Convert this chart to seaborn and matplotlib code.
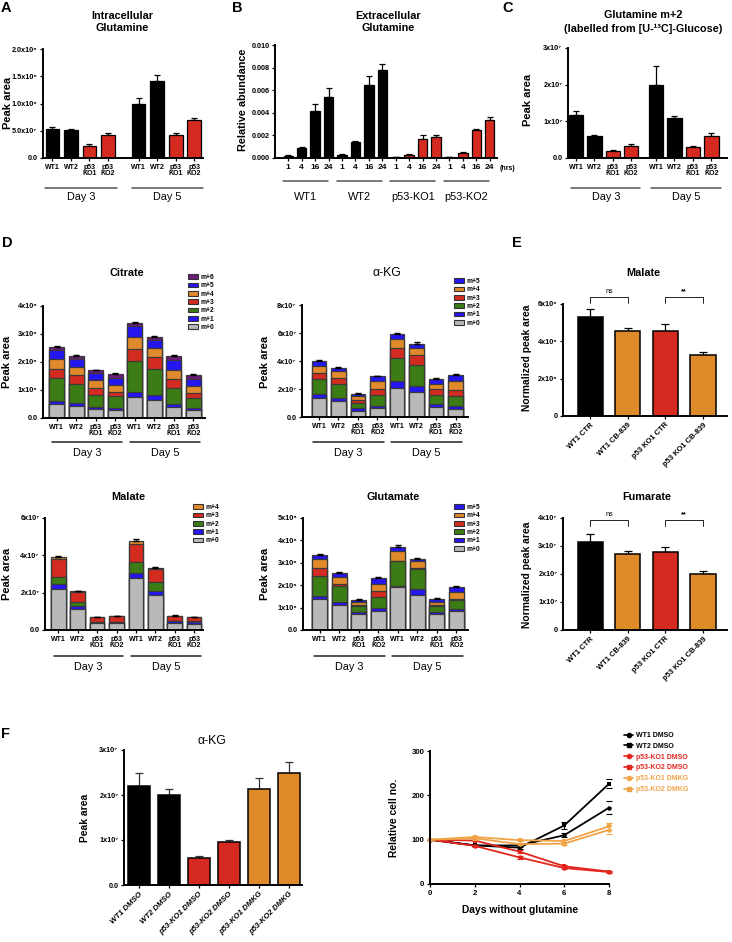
import numpy as np
import pandas as pd
import matplotlib
matplotlib.use("Agg")
import matplotlib.pyplot as plt
from matplotlib import transforms
from matplotlib.lines import Line2D
from matplotlib.patches import Patch
import seaborn as sns

# ------------------------------------------------------------------ data
DAY_LABELS = ["Day 3", "Day 5"]
LINE_TICKS = ["WT1", "WT2", "p53\nKO1", "p53\nKO2"]

# A  intracellular glutamine (peak area)
A_vals = [5.3e7, 5.1e7, 2.2e7, 4.3e7, 9.9e7, 1.41e8, 4.3e7, 7.0e7]
A_err = [0.4e7, 0.3e7, 0.35e7, 0.3e7, 1.2e7, 1.1e7, 0.35e7, 0.35e7]

# B  extracellular glutamine (relative abundance) per line x hours
B_hours = ["1", "4", "16", "24"]
B_lines = ["WT1", "WT2", "p53-KO1", "p53-KO2"]
B_vals = [0.0002, 0.0009, 0.0042, 0.0054,
          0.0003, 0.0014, 0.0065, 0.0078,
          0.00005, 0.0003, 0.0017, 0.0019,
          0.00008, 0.00045, 0.0025, 0.0034]
B_err = [0.00003, 0.0001, 0.0006, 0.0008,
         0.00005, 0.0001, 0.0008, 0.0005,
         0.00001, 0.00005, 0.0003, 0.00015,
         0.00001, 0.00005, 0.0001, 0.0002]

# C  glutamine m+2 from U-13C glucose
C_vals = [1.17e7, 0.60e7, 0.18e7, 0.33e7, 2.0e7, 1.10e7, 0.31e7, 0.60e7]
C_err = [0.10e7, 0.04e7, 0.03e7, 0.04e7, 0.5e7, 0.05e7, 0.03e7, 0.08e7]

# D  isotopologue stacks (component heights)
citrate = {  # x1e8
    "m+0": [0.50, 0.44, 0.32, 0.30, 0.75, 0.65, 0.39, 0.30],
    "m+1": [0.10, 0.11, 0.08, 0.06, 0.18, 0.18, 0.12, 0.07],
    "m+2": [0.83, 0.65, 0.43, 0.41, 1.11, 0.93, 0.56, 0.36],
    "m+3": [0.32, 0.32, 0.24, 0.17, 0.44, 0.42, 0.33, 0.16],
    "m+4": [0.36, 0.30, 0.28, 0.25, 0.41, 0.33, 0.33, 0.24],
    "m+5": [0.32, 0.30, 0.26, 0.25, 0.38, 0.29, 0.33, 0.27],
    "m+6": [0.12, 0.08, 0.09, 0.14, 0.12, 0.09, 0.14, 0.15],
}
akg = {  # x1e7
    "m+0": [1.38, 1.15, 0.45, 0.62, 2.10, 1.79, 0.72, 0.60],
    "m+1": [0.29, 0.23, 0.17, 0.19, 0.48, 0.43, 0.21, 0.16],
    "m+2": [1.07, 1.01, 0.38, 0.74, 1.64, 1.48, 0.67, 0.72],
    "m+3": [0.41, 0.43, 0.24, 0.43, 0.72, 0.72, 0.43, 0.48],
    "m+4": [0.48, 0.47, 0.24, 0.60, 0.62, 0.52, 0.36, 0.62],
    "m+5": [0.36, 0.24, 0.19, 0.33, 0.36, 0.31, 0.35, 0.45],
}
malate = {  # x1e7
    "m+0": [2.20, 1.13, 0.36, 0.36, 2.78, 1.88, 0.36, 0.32],
    "m+1": [0.25, 0.16, 0.05, 0.05, 0.30, 0.23, 0.11, 0.11],
    "m+2": [0.38, 0.20, 0.04, 0.04, 0.56, 0.45, 0.03, 0.04],
    "m+3": [0.99, 0.55, 0.23, 0.28, 0.97, 0.70, 0.25, 0.21],
    "m+4": [0.07, 0.04, 0.02, 0.02, 0.17, 0.04, 0.02, 0.02],
}
glutamate = {  # x1e8
    "m+0": [1.37, 1.12, 0.70, 0.85, 1.90, 1.57, 0.72, 0.85],
    "m+1": [0.15, 0.15, 0.09, 0.12, 0.05, 0.25, 0.10, 0.09],
    "m+2": [0.90, 0.70, 0.28, 0.49, 1.11, 0.90, 0.25, 0.40],
    "m+3": [0.34, 0.09, 0.05, 0.26, 0.02, 0.03, 0.05, 0.05],
    "m+4": [0.40, 0.30, 0.12, 0.34, 0.46, 0.34, 0.15, 0.30],
    "m+5": [0.17, 0.18, 0.12, 0.25, 0.18, 0.07, 0.12, 0.25],
}

# E  CB-839 treatment
E_labels = ["WT1 CTR", "WT1 CB-839", "p53 KO1 CTR", "p53 KO1 CB-839"]
E_malate = [5.30e8, 4.55e8, 4.58e8, 3.27e8]
E_malate_err = [0.42e8, 0.16e8, 0.33e8, 0.17e8]
E_fumarate = [3.16e7, 2.71e7, 2.77e7, 1.99e7]
E_fumarate_err = [0.27e7, 0.12e7, 0.19e7, 0.12e7]

# F  alpha-KG with DMKG + growth curves
F_labels = ["WT1 DMSO", "WT2 DMSO", "p53-KO1 DMSO", "p53-KO2 DMSO",
            "p53-KO1 DMKG", "p53-KO2 DMKG"]
F_akg = [2.20e7, 2.01e7, 0.61e7, 0.95e7, 2.13e7, 2.50e7]
F_akg_err = [0.30e7, 0.12e7, 0.04e7, 0.04e7, 0.24e7, 0.23e7]
days = [0, 2, 4, 6, 8]
growth = {
    "WT1 DMSO": [100, 87, 87, 110, 172],
    "WT2 DMSO": [100, 87, 82, 132, 226],
    "p53-KO1 DMSO": [100, 86, 60, 36, 27],
    "p53-KO2 DMSO": [100, 98, 73, 40, 28],
    "p53-KO1 DMKG": [100, 103, 90, 91, 122],
    "p53-KO2 DMKG": [100, 106, 99, 97, 130],
}
growth_err = {
    "WT1 DMSO": [0, 2, 3, 5, 15],
    "WT2 DMSO": [0, 2, 3, 8, 10],
    "p53-KO1 DMSO": [0, 2, 3, 2, 2],
    "p53-KO2 DMSO": [0, 2, 3, 2, 2],
    "p53-KO1 DMKG": [0, 3, 3, 3, 10],
    "p53-KO2 DMKG": [0, 3, 3, 3, 8],
}

# ------------------------------------------------------------------ style
BLACK = "#000000"
RED = "#d42a1f"
ORANGE = "#df8a28"
L_RED = "#e3261d"
L_ORANGE = "#f0a347"
ISO = {"m+0": "#b9b9b9", "m+1": "#2515f0", "m+2": "#3b7c14", "m+3": "#d32b1f",
       "m+4": "#e08a2b", "m+5": "#2515f0", "m+6": "#6d1b7b"}

sns.set_theme(style="ticks")
plt.rcParams["font.family"] = ["Liberation Sans", "DejaVu Sans"]
plt.rcParams["font.weight"] = "bold"
for k in ["axes.edgecolor", "xtick.color", "ytick.color", "text.color", "axes.labelcolor"]:
    plt.rcParams[k] = "black"

W, H = 732, 942
fig = plt.figure(figsize=(W / 100, H / 100), dpi=100)


def fx(x):
    return x / W


def fy(y):
    return 1 - y / H


def add_ax(x0, y0, x1, y1):
    ax = fig.add_axes([fx(x0), fy(y1), (x1 - x0) / W, (y1 - y0) / H])
    ax.patch.set_alpha(0)
    return ax


def ftext(x, y, s, **kw):
    kw.setdefault("ha", "center")
    kw.setdefault("va", "center")
    fig.text(fx(x), fy(y), s, **kw)


def draw_bars(ax, xpos, vals, colors, width, edge=BLACK, lw=0.9):
    df = pd.DataFrame({"x": xpos, "y": vals, "k": [f"b{i}" for i in range(len(vals))]})
    pal = {f"b{i}": c for i, c in enumerate(colors)}
    sns.barplot(data=df, x="x", y="y", hue="k", palette=pal, native_scale=True,
                width=width, dodge=False, errorbar=None, legend=False, orient="x",
                edgecolor=edge, linewidth=lw, saturation=1, ax=ax)


def draw_err(ax, xpos, vals, err, color=BLACK, cap=2.2):
    ax.errorbar(xpos, vals, yerr=[np.zeros(len(err)), err], fmt="none", ecolor=color,
                elinewidth=0.9, capsize=cap, capthick=0.9, zorder=1)


def draw_stack(ax, xpos, comps, scale, width=0.75):
    keys = list(comps.keys())
    arr = np.array([comps[k] for k in keys]) * scale
    cum = np.cumsum(arr, axis=0)
    for i in range(len(keys) - 1, -1, -1):
        sns.barplot(x=xpos, y=cum[i], color=ISO[keys[i]], native_scale=True, width=width,
                    errorbar=None, orient="x", edgecolor="#3a3a3a", linewidth=0.9,
                    saturation=1, ax=ax)
    ax.errorbar(xpos, cum[-1], yerr=[np.zeros(len(xpos)), cum[-1] * 0.015], fmt="none",
                ecolor=BLACK, elinewidth=0.9, capsize=2.2, capthick=1.0)


def style(ax, xlim, ylim, xticks, xticklabels, yticks, yticklabels, xfs=5.0, yfs=5.2,
          rot=0):
    ax.set_xlim(*xlim)
    ax.set_ylim(*ylim)
    ax.set_yticks(yticks)
    ax.set_yticklabels(yticklabels, fontsize=yfs, fontweight="bold")
    ax.set_xticks(xticks)
    if rot:
        ax.set_xticklabels(xticklabels, fontsize=xfs, fontweight="bold", rotation=rot,
                           ha="right", rotation_mode="anchor")
    else:
        ax.set_xticklabels(xticklabels, fontsize=xfs, fontweight="bold", linespacing=0.95)
    sns.despine(ax=ax)
    ax.spines["left"].set_linewidth(1.4)
    ax.spines["bottom"].set_linewidth(1.4)
    ax.tick_params(axis="both", length=2.5, width=0.9, pad=1.5, color="black")
    ax.set_xlabel("")
    ax.set_ylabel("")


def underline(ax, x0, x1, ypx, label, ytext, fs=7.8, color="#555555"):
    tr = transforms.blended_transform_factory(ax.transData, fig.transFigure)
    ax.add_line(Line2D([x0, x1], [fy(ypx)] * 2, transform=tr, color=color, lw=1.1,
                       clip_on=False))
    ax.text((x0 + x1) / 2, fy(ytext), label, transform=tr, ha="center", va="center",
            fontsize=fs, fontweight="normal")


def iso_legend(ax, comps, xpx, ypx):
    keys = list(comps.keys())[::-1]
    handles = [Patch(facecolor=ISO[k], edgecolor="#333333", lw=0.8) for k in keys]
    ax.legend(handles, keys, loc="upper left", bbox_to_anchor=(fx(xpx), fy(ypx)),
              bbox_transform=fig.transFigure, frameon=False, fontsize=4.8,
              handlelength=1.45, handleheight=0.75, handletextpad=0.4,
              labelspacing=0.2, borderpad=0, borderaxespad=0)


def bracket(ax, x0, x1, y, h, txt, bold):
    ax.plot([x0, x0, x1, x1], [y - h, y, y, y - h], color=BLACK, lw=0.6, clip_on=False)
    ax.text((x0 + x1) / 2, y + h * 0.3, txt, ha="center", va="bottom", fontsize=5.2,
            fontweight="bold" if bold else "normal")


TITLE_FS = 7.8
YLAB_FS = 8

# ------------------------------------------------------------------ panel A
grp8 = np.r_[np.arange(4), np.arange(4) + 4.65]
colsA = [BLACK, BLACK, RED, RED] * 2
axA = add_ax(43, 49, 203, 158)
draw_err(axA, grp8, A_vals, A_err)
draw_bars(axA, grp8, A_vals, colsA, 0.75)
style(axA, (-0.51, 8.13), (0, 2e8), grp8, LINE_TICKS * 2,
      [0, 5e7, 1e8, 1.5e8, 2e8], ["0.0", "5.0x10⁷", "1.0x10⁸", "1.5x10⁸", "2.0x10⁸"])
for g, lab in enumerate(DAY_LABELS):
    underline(axA, grp8[4 * g] - 0.38, grp8[4 * g + 3] + 0.48, 188, lab, 197)
ftext(122, 22, "Intracellular\nGlutamine", fontsize=TITLE_FS, linespacing=1.35)
ftext(8, 103, "Peak area", fontsize=YLAB_FS, rotation=90)
ftext(6, 8, "A", fontsize=10.5)

# ------------------------------------------------------------------ panel B
posB = np.arange(16)
colsB = [BLACK] * 8 + [RED] * 8
axB = add_ax(275, 45, 497, 158)
draw_err(axB, posB, B_vals, B_err, cap=2.0)
draw_bars(axB, posB, B_vals, colsB, 0.7)
style(axB, (-0.99, 15.54), (0, 0.010), posB, B_hours * 4,
      [0, 0.002, 0.004, 0.006, 0.008, 0.010],
      ["0.000", "0.002", "0.004", "0.006", "0.008", "0.010"], xfs=6.0, yfs=5.2)
for g, lab in enumerate(B_lines):
    underline(axB, posB[4 * g] - 0.4, posB[4 * g + 3] - 0.05, 181, lab, 197)
ftext(388, 22, "Extracellular\nGlutamine", fontsize=TITLE_FS, linespacing=1.35)
ftext(243, 100, "Relative abundance", fontsize=7.8, rotation=90)
ftext(508, 168, "(hrs)", fontsize=5)
ftext(237, 8, "B", fontsize=10.5)

# ------------------------------------------------------------------ panel C
grpC = np.r_[np.arange(4), np.arange(4) + 4.35]
axC = add_ax(568, 48, 727, 158)
draw_err(axC, grpC, C_vals, C_err)
draw_bars(axC, grpC, C_vals, colsA, 0.78)
style(axC, (-0.43, 8.2), (0, 3e7), grpC, LINE_TICKS * 2,
      [0, 1e7, 2e7, 3e7], ["0.0", "1x10⁷", "2x10⁷", "3x10⁷"])
for g, lab in enumerate(DAY_LABELS):
    underline(axC, grpC[4 * g] - 0.25, grpC[4 * g + 3] + 0.5, 188, lab, 197)
ftext(643, 22, "Glutamine m+2\n(labelled from [U-¹³C]-Glucose)", fontsize=TITLE_FS,
      linespacing=1.35)
ftext(528, 100, "Peak area", fontsize=YLAB_FS, rotation=90)
ftext(508, 8, "C", fontsize=10.5)

# ------------------------------------------------------------------ panel D
pos8 = np.arange(8)

axCit = add_ax(43, 306, 205, 418)
draw_stack(axCit, pos8, citrate, 1e8)
style(axCit, (-0.70, 7.6), (0, 4e8), pos8, LINE_TICKS * 2,
      [0, 1e8, 2e8, 3e8, 4e8], ["0.0", "1x10⁸", "2x10⁸", "3x10⁸", "4x10⁸"])
for g, lab in enumerate(DAY_LABELS):
    underline(axCit, pos8[4 * g] - 0.25, pos8[4 * g + 3] + 0.35, 442, lab, 453, color="#222222")
iso_legend(axCit, citrate, 188, 274)
ftext(127, 273, "Citrate", fontsize=TITLE_FS)
ftext(7, 362, "Peak area", fontsize=YLAB_FS, rotation=90)
ftext(7, 243, "D", fontsize=10.5)

axAkg = add_ax(302, 305, 468, 417)
draw_stack(axAkg, pos8, akg, 1e7)
style(axAkg, (-0.87, 7.64), (0, 8e7), pos8, LINE_TICKS * 2,
      [0, 2e7, 4e7, 6e7, 8e7], ["0.0", "2x10⁷", "4x10⁷", "6x10⁷", "8x10⁷"])
for g, lab in enumerate(DAY_LABELS):
    underline(axAkg, pos8[4 * g] - 0.3, pos8[4 * g + 3] + 0.33, 442, lab, 453, color="#222222")
iso_legend(axAkg, akg, 454, 278)
ftext(387, 273, "α-KG", fontsize=8.8, fontweight="normal")
ftext(265, 362, "Peak area", fontsize=YLAB_FS, rotation=90)

axMal = add_ax(45, 518, 203, 630)
draw_stack(axMal, pos8, malate, 1e7)
style(axMal, (-0.69, 7.46), (0, 6e7), pos8, LINE_TICKS * 2,
      [0, 2e7, 4e7, 6e7], ["0.0", "2x10⁷", "4x10⁷", "6x10⁷"])
for g, lab in enumerate(DAY_LABELS):
    underline(axMal, pos8[4 * g] - 0.25, pos8[4 * g + 3] + 0.35, 656, lab, 667, color="#222222")
iso_legend(axMal, malate, 193, 504)
ftext(128, 497, "Malate", fontsize=TITLE_FS)
ftext(7, 574, "Peak area", fontsize=YLAB_FS, rotation=90)

axGlu = add_ax(303, 518, 468, 630)
draw_stack(axGlu, pos8, glutamate, 1e8)
style(axGlu, (-0.86, 7.6), (0, 5e8), pos8, LINE_TICKS * 2,
      [0, 1e8, 2e8, 3e8, 4e8, 5e8], ["0.0", "1x10⁸", "2x10⁸", "3x10⁸", "4x10⁸", "5x10⁸"])
for g, lab in enumerate(DAY_LABELS):
    underline(axGlu, pos8[4 * g] - 0.3, pos8[4 * g + 3] + 0.33, 656, lab, 667, color="#222222")
iso_legend(axGlu, glutamate, 454, 504)
ftext(393, 497, "Glutamate", fontsize=TITLE_FS)
ftext(265, 574, "Peak area", fontsize=YLAB_FS, rotation=90)

# ------------------------------------------------------------------ panel E
pos4 = np.arange(4)
colsE = [BLACK, ORANGE, RED, ORANGE]

axEm = add_ax(563, 304, 727, 416)
draw_err(axEm, pos4, E_malate, E_malate_err, cap=3)
draw_bars(axEm, pos4, E_malate, colsE, 0.67, lw=1.1)
style(axEm, (-0.73, 3.64), (0, 6e8), pos4, E_labels,
      [0, 2e8, 4e8, 6e8], ["0", "2x10⁸", "4x10⁸", "6x10⁸"], xfs=5.4, rot=45)
bracket(axEm, 0, 1, 6.37e8, 0.3e8, "ns", False)
bracket(axEm, 2, 3, 6.37e8, 0.3e8, "**", True)
ftext(643, 273, "Malate", fontsize=TITLE_FS)
ftext(527, 358, "Normalized peak area", fontsize=7.4, rotation=90)
ftext(517, 243, "E", fontsize=10.5)

axEf = add_ax(563, 518, 727, 630)
draw_err(axEf, pos4, E_fumarate, E_fumarate_err, cap=3)
draw_bars(axEf, pos4, E_fumarate, colsE, 0.67, lw=1.1)
style(axEf, (-0.73, 3.64), (0, 4e7), pos4, E_labels,
      [0, 1e7, 2e7, 3e7, 4e7], ["0", "1x10⁷", "2x10⁷", "3x10⁷", "4x10⁷"], xfs=5.4, rot=45)
bracket(axEf, 0, 1, 3.93e7, 0.2e7, "ns", False)
bracket(axEf, 2, 3, 3.93e7, 0.2e7, "**", True)
ftext(647, 497, "Fumarate", fontsize=TITLE_FS)
ftext(527, 575, "Normalized peak area", fontsize=7.4, rotation=90)

# ------------------------------------------------------------------ panel F
pos6 = np.arange(6)
colsF = [BLACK, BLACK, RED, RED, ORANGE, ORANGE]
axFl = add_ax(124, 750, 302, 885)
draw_err(axFl, pos6, F_akg, F_akg_err, color="#333333", cap=3)
draw_bars(axFl, pos6, F_akg, colsF, 0.72, lw=1.1)
style(axFl, (-0.5, 5.43), (0, 3e7), pos6, F_labels,
      [0, 1e7, 2e7, 3e7], ["0.0", "1x10⁷", "2x10⁷", "3x10⁷"], xfs=5.6, rot=45)
for lbl in axFl.get_xticklabels():
    lbl.set_fontstyle("italic")
ftext(212, 741, "α-KG", fontsize=8.8, fontweight="normal")
ftext(85, 818, "Peak area", fontsize=7.4, rotation=90)
ftext(6, 734, "F", fontsize=10.5)

axFr = add_ax(430, 751, 609, 884)
line_cols = [BLACK, BLACK, L_RED, L_RED, L_ORANGE, L_ORANGE]
line_mk = ["o", "s", "o", "s", "o", "s"]
handles = []
for (name, vals), col, mk in zip(growth.items(), line_cols, line_mk):
    sns.lineplot(x=days, y=vals, color=col, marker=mk, markersize=3.2,
                 markeredgewidth=0, linewidth=1.3, ax=axFr, legend=False)
    axFr.errorbar(days, vals, yerr=growth_err[name], fmt="none", ecolor=col,
                  elinewidth=0.8, capsize=2, capthick=0.8)
    handles.append(Line2D([], [], color=col, marker=mk, markersize=3, lw=1.2))
for ln in axFr.lines:
    ln.set_clip_on(False)
style(axFr, (0, 8), (0, 300), days, [str(d) for d in days],
      [0, 100, 200, 300], ["0", "100", "200", "300"], xfs=5.6, yfs=5.6)
leg = axFr.legend(handles, list(growth.keys()), loc="upper left",
                  bbox_to_anchor=(fx(624), fy(732)), bbox_transform=fig.transFigure,
                  frameon=False, fontsize=5.0, handlelength=1.3, handletextpad=0.4,
                  labelspacing=0.55, borderpad=0, borderaxespad=0)
for t, c in zip(leg.get_texts(), line_cols):
    t.set_color(c)
ftext(394, 818, "Relative cell no.", fontsize=7.4, rotation=90)
ftext(520, 910, "Days without glutamine", fontsize=7.4)

fig.savefig("out.png", dpi=100)
